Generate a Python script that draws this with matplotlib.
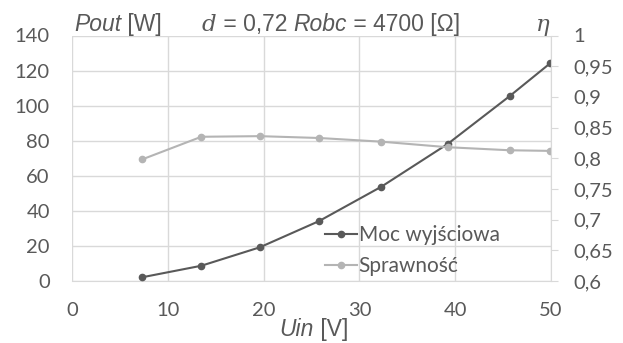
import matplotlib
matplotlib.use('Agg')
import matplotlib.pyplot as plt
from matplotlib.ticker import FuncFormatter, MultipleLocator

# data
uin = [7.3, 13.5, 19.6, 25.8, 32.3, 39.2, 45.7, 49.9]
pout = [2.1, 8.7, 19.2, 34.2, 53.8, 78.1, 105.5, 124.1]
eta = [0.798, 0.835, 0.836, 0.833, 0.827, 0.818, 0.813, 0.812]

dark = '#595959'
light = '#b4b4b4'
grid_c = '#d9d9d9'
txt_c = '#595959'
tick_font = 'Lato'

fig = plt.figure(figsize=(6.23, 3.43), dpi=100)
ax = fig.add_axes([72 / 623, 1 - 281 / 343, (551 - 72) / 623, (281 - 35.5) / 343])
ax2 = ax.twinx()

l1, = ax.plot(uin, pout, color=dark, lw=1.5, marker='o', ms=4.5, label='Moc wyjściowa', zorder=3)
l2, = ax2.plot(uin, eta, color=light, lw=1.5, marker='o', ms=4.5, label='Sprawność', zorder=2)

ax.set_xlim(0, 50)
ax.set_ylim(0, 140)
ax2.set_ylim(0.6, 1.0)
ax.xaxis.set_major_locator(MultipleLocator(10))
ax.yaxis.set_major_locator(MultipleLocator(20))
ax2.yaxis.set_major_locator(MultipleLocator(0.05))

comma = FuncFormatter(lambda v, p: ('%g' % round(v, 3)).replace('.', ','))
ax.yaxis.set_major_formatter(comma)
ax.xaxis.set_major_formatter(comma)
ax2.yaxis.set_major_formatter(comma)

ax.grid(True, color=grid_c, lw=1)
ax.set_axisbelow(True)
for a in (ax, ax2):
    for s in a.spines.values():
        s.set_visible(False)
ax2.spines['right'].set_visible(True)
ax2.spines['right'].set_color(grid_c)
ax.spines['bottom'].set_visible(True)
ax.spines['bottom'].set_color(grid_c)

ax.tick_params(axis='both', length=0, labelsize=14.5, labelcolor=txt_c)
ax.tick_params(axis='y', pad=16)
ax.tick_params(axis='x', pad=15)
ax2.tick_params(axis='y', length=5, color=grid_c, labelsize=14.5, labelcolor=txt_c, pad=11)
for lab in ax.get_xticklabels() + ax.get_yticklabels() + ax2.get_yticklabels():
    lab.set_fontfamily(tick_font)

leg = ax.legend(handles=[l1, l2], loc='upper left', bbox_to_anchor=((315 - 72) / 479, (281 - 215) / 245.5),
                frameon=False, prop={'family': tick_font, 'size': 15}, labelcolor=txt_c,
                handlelength=1.5, handletextpad=0.1, borderpad=0, labelspacing=0.5)

# header and axis labels built from pieces
fig.canvas.draw()
renderer = fig.canvas.get_renderer()


def chain(x_px, y_px, pieces, size=16.5, center=False):
    x = x_px
    texts = []
    for s, style, fam in pieces:
        t = fig.text(x / 623, 1 - y_px / 343, s, fontsize=size, color=txt_c, style=style,
                     family=fam, va='baseline', ha='left')
        bb = t.get_window_extent(renderer)
        x = bb.x1
        texts.append(t)
    if center:
        shift = (x - x_px) / 2
        for t in texts:
            px, py = t.get_position()
            t.set_position((px - shift / 623, py))


sans = 'Liberation Sans'
serif = 'DejaVu Serif'
chain(74, 31, [('Pout', 'italic', sans), (' [W]', 'normal', sans)])
chain(202, 31, [('d', 'italic', serif), (' = 0,72 ', 'normal', sans), ('Robc', 'italic', sans),
                (' = 4700 [Ω]', 'normal', sans)])
chain(536, 31, [('η', 'italic', serif)])
chain(314, 336, [('Uin', 'italic', sans), (' [V]', 'normal', sans)], center=True)

fig.savefig('out.png', dpi=100)
